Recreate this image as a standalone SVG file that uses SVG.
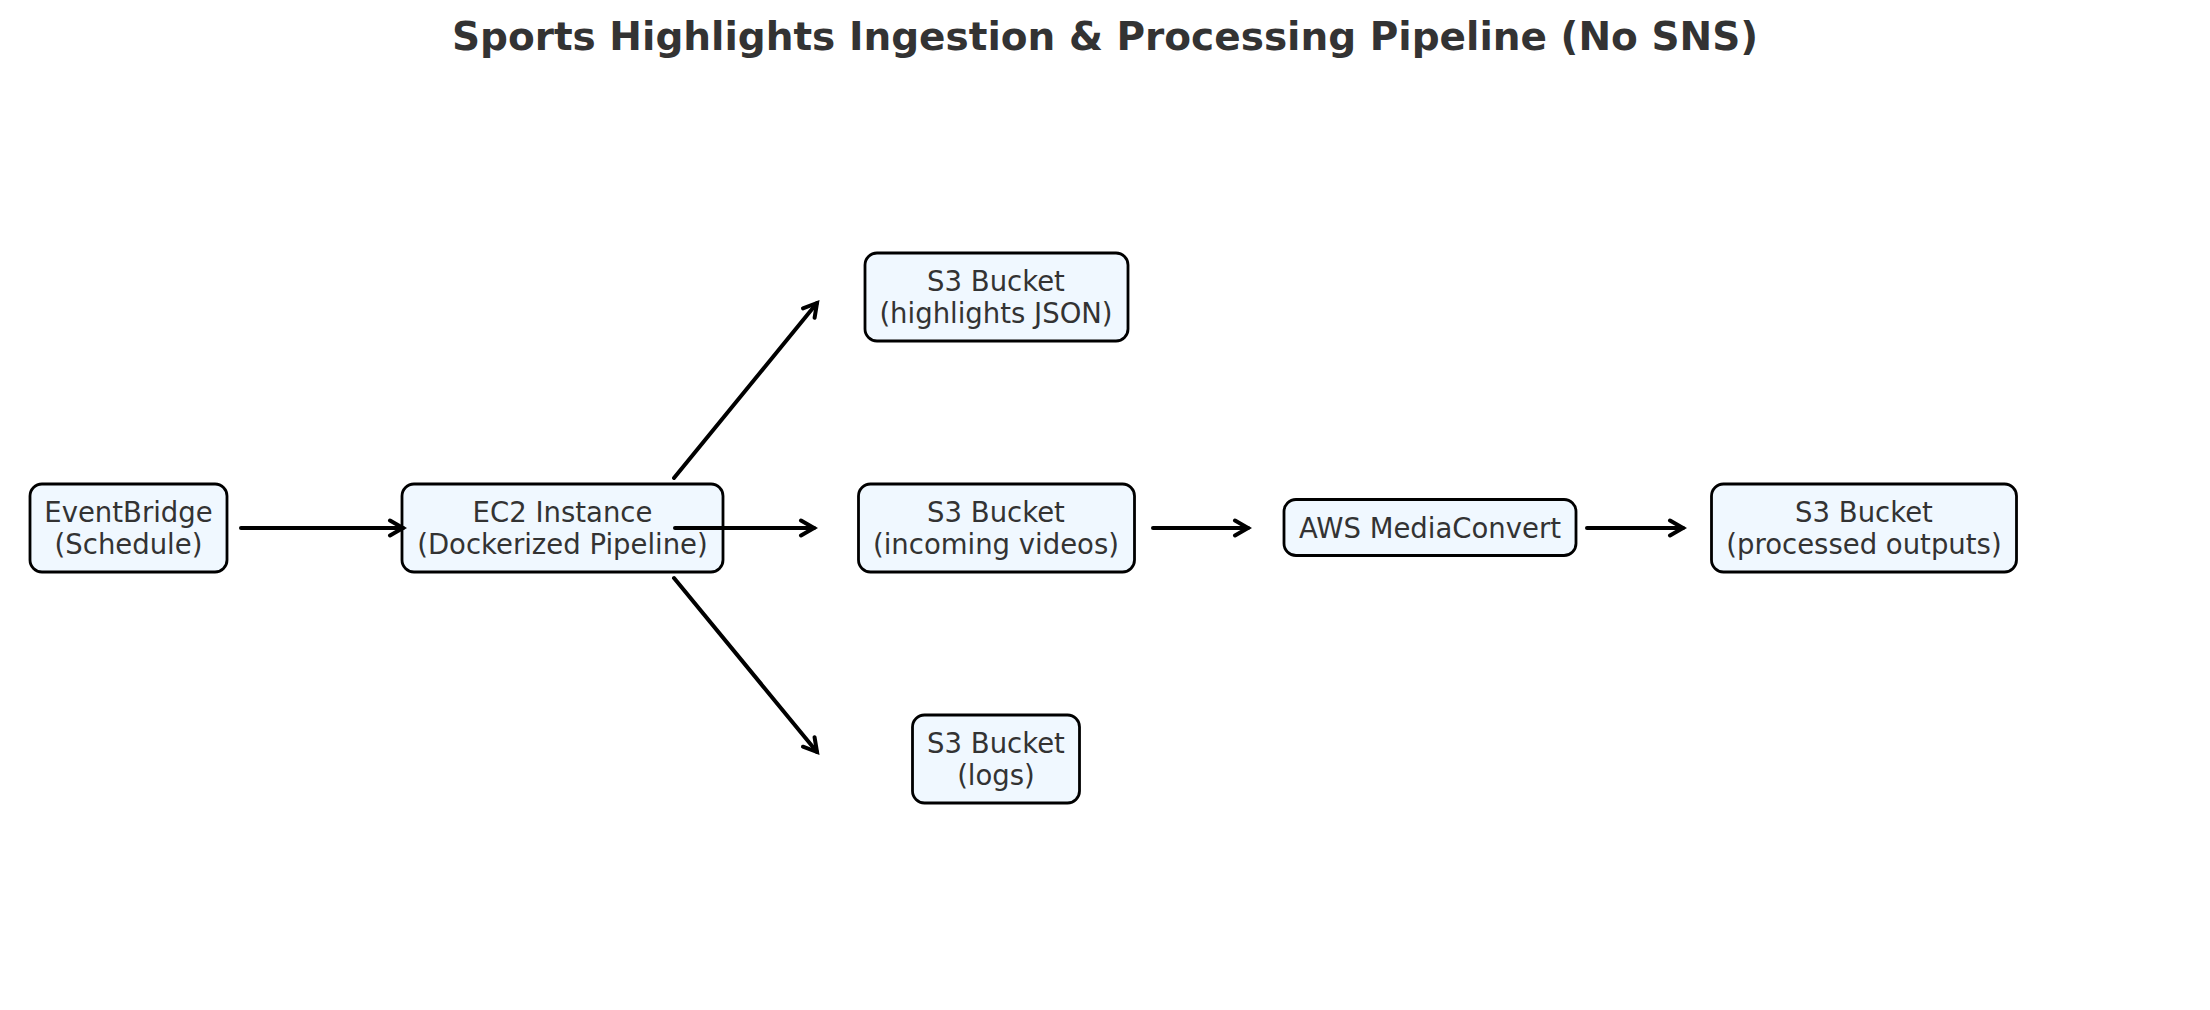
<svg xmlns="http://www.w3.org/2000/svg" width="2210" height="1010" viewBox="0 0 2210 1010">
<defs>
<marker id="arr" viewBox="-16 -10 20 20" refX="0" refY="0" markerWidth="20" markerHeight="20" markerUnits="userSpaceOnUse" orient="auto">
<path d="M-13,-7.5 L0,0 L-13,7.5" fill="none" stroke="#000" stroke-width="4" stroke-linecap="round" stroke-linejoin="miter"/>
</marker>
</defs>
<style>
.box{fill:#f0f8ff;stroke:#000;stroke-width:2.8}
.lbl{font-family:"DejaVu Sans",sans-serif;font-size:27.5px;fill:#333333;text-anchor:middle}
.title{font-family:"DejaVu Sans",sans-serif;font-size:39px;font-weight:bold;fill:#333333;text-anchor:middle}
.edge{stroke:#000;stroke-width:4;fill:none;stroke-linecap:round;marker-end:url(#arr)}
</style>
<rect width="2210" height="1010" fill="#ffffff"/>
<text class="title" x="1105" y="50">Sports Highlights Ingestion &amp; Processing Pipeline (No SNS)</text>
<g id="eventbridge">
<rect class="box" x="30" y="484" width="197" height="88" rx="12"/>
<text class="lbl" x="128.5" y="521.5">EventBridge</text>
<text class="lbl" x="128.5" y="554">(Schedule)</text>
</g>
<g id="ec2">
<rect class="box" x="402" y="484" width="321" height="88" rx="12"/>
<text class="lbl" x="562.5" y="521.5">EC2 Instance</text>
<text class="lbl" x="562.5" y="554">(Dockerized Pipeline)</text>
</g>
<g id="s3-highlights">
<rect class="box" x="865" y="253" width="263" height="88" rx="12"/>
<text class="lbl" x="996" y="290.5">S3 Bucket</text>
<text class="lbl" x="996" y="323">(highlights JSON)</text>
</g>
<g id="s3-incoming">
<rect class="box" x="858.5" y="484" width="276" height="88" rx="12"/>
<text class="lbl" x="996" y="521.5">S3 Bucket</text>
<text class="lbl" x="996" y="554">(incoming videos)</text>
</g>
<g id="s3-logs">
<rect class="box" x="912.5" y="715" width="167" height="88" rx="12"/>
<text class="lbl" x="996" y="752.5">S3 Bucket</text>
<text class="lbl" x="996" y="785">(logs)</text>
</g>
<g id="mediaconvert">
<rect class="box" x="1284" y="499.5" width="292" height="56" rx="12"/>
<text class="lbl" x="1430" y="537.5">AWS MediaConvert</text>
</g>
<g id="s3-processed">
<rect class="box" x="1711.5" y="484" width="305" height="88" rx="12"/>
<text class="lbl" x="1864" y="521.5">S3 Bucket</text>
<text class="lbl" x="1864" y="554">(processed outputs)</text>
</g>
<g id="connectors">
<line class="edge" x1="241" y1="528" x2="403" y2="528"/>
<line class="edge" x1="675" y1="528" x2="814" y2="528"/>
<line class="edge" x1="674" y1="478" x2="817" y2="303"/>
<line class="edge" x1="674" y1="578" x2="817" y2="752"/>
<line class="edge" x1="1153" y1="528" x2="1248" y2="528"/>
<line class="edge" x1="1587" y1="528" x2="1683" y2="528"/>
</g>
</svg>
